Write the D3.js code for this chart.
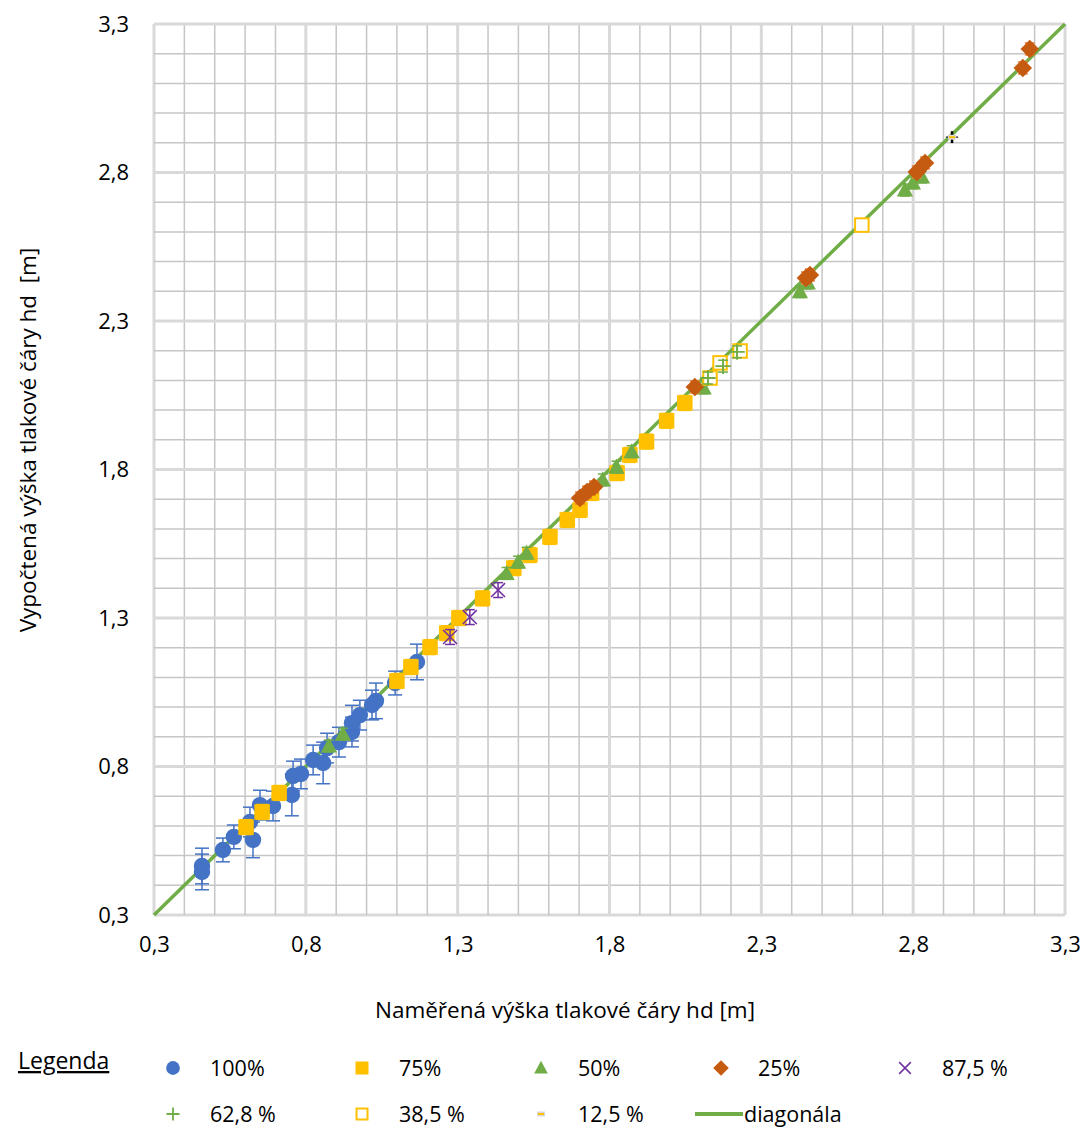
<!DOCTYPE html>
<html>
<head>
<meta charset="utf-8">
<script src="https://cdn.jsdelivr.net/npm/d3@7"></script>
<style>
  body { margin: 0; background: #fff; }
  svg text { font-family: "Open Sans", "Noto Sans", sans-serif; fill: #000; white-space: pre; }
</style>
</head>
<body>
<div id="vis"></div>
<script>
/*************************** data ************************************/
var ticks = [0.3, 0.8, 1.3, 1.8, 2.3, 2.8, 3.3];

// 100 %
var s100_x   = [0.458, 0.458, 0.527, 0.563, 0.626, 0.616, 0.649, 0.692, 0.754, 0.758, 0.784, 0.824, 0.857, 0.870, 0.909, 0.952, 0.952, 0.978, 1.018, 1.031, 1.094, 1.166];
var s100_y   = [0.465, 0.445, 0.519, 0.563, 0.553, 0.613, 0.670, 0.667, 0.704, 0.768, 0.775, 0.822, 0.812, 0.862, 0.882, 0.916, 0.946, 0.973, 1.007, 1.021, 1.081, 1.152];
var s100_err = [0.06, 0.06, 0.04, 0.04, 0.06, 0.05, 0.05, 0.05, 0.07, 0.05, 0.05, 0.05, 0.07, 0.05, 0.05, 0.05, 0.06, 0.05, 0.05, 0.06, 0.04, 0.06];

// 75 %
var s75_x = [0.603, 0.656, 0.712, 1.100, 1.146, 1.209, 1.264, 1.304, 1.382, 1.485, 1.538, 1.604, 1.661, 1.703, 1.741, 1.825, 1.867, 1.922, 1.988, 2.048];
var s75_y = [0.596, 0.647, 0.711, 1.088, 1.135, 1.202, 1.249, 1.300, 1.366, 1.468, 1.512, 1.573, 1.630, 1.664, 1.721, 1.788, 1.849, 1.894, 1.964, 2.024];

// 50 %
var s50_x = [0.876, 0.922, 1.461, 1.499, 1.527, 1.778, 1.823, 1.873, 2.110, 2.427, 2.453, 2.773, 2.799, 2.829];
var s50_y = [0.869, 0.909, 1.450, 1.488, 1.518, 1.765, 1.808, 1.860, 2.075, 2.399, 2.428, 2.741, 2.765, 2.785];

// 25 %
var s25_x = [1.703, 1.726, 1.749, 2.081, 2.447, 2.460, 2.812, 2.839, 3.161, 3.184];
var s25_y = [1.704, 1.724, 1.741, 2.078, 2.445, 2.455, 2.802, 2.832, 3.152, 3.216];

// 87,5 %
var s875_x = [1.275, 1.340, 1.433];
var s875_y = [1.236, 1.303, 1.394];

// 62,8 %
var s628_x = [2.124, 2.174, 2.220];
var s628_y = [2.108, 2.148, 2.196];

// 38,5 %
var s385_x = [2.131, 2.164, 2.230, 2.631];
var s385_y = [2.108, 2.159, 2.199, 2.623];

// 12,5 %
var s125_x = [2.928];
var s125_y = [2.919];

var series = [
    {name: "100%",   xs: s100_x, ys: s100_y, err: s100_err, sym: "circle",   color: "#4472C4", errColor: "#4472C4", cap: 7, z: 0},
    {name: "75%",    xs: s75_x,  ys: s75_y,  err: 0.025,    sym: "square",   color: "#FFC000", errColor: "#FFC000", cap: 6, z: 1},
    {name: "50%",    xs: s50_x,  ys: s50_y,  err: 0.02,     sym: "triangle", color: "#70AD47", errColor: "#70AD47", cap: 5, z: 2},
    {name: "25%",    xs: s25_x,  ys: s25_y,  err: 0.02,     sym: "diamond",  color: "#C55A11", errColor: "#ED7D31", cap: 5, z: 3},
    {name: "87,5 %", xs: s875_x, ys: s875_y, err: 0.025,    sym: "x",        color: "#7030A0", errColor: "#7030A0", cap: 5, z: 4},
    {name: "62,8 %", xs: s628_x, ys: s628_y, err: 0.02,     sym: "plus",     color: "#70AD47", errColor: "#70AD47", cap: 5, z: 6},
    {name: "38,5 %", xs: s385_x, ys: s385_y, err: 0.02,     sym: "open",     color: "#FFC000", errColor: "#FFC000", cap: 5, z: 5},
    {name: "12,5 %", xs: s125_x, ys: s125_y, err: 0.02,     sym: "dash",     color: "#A5A5A5", errColor: "#000000", cap: 0, z: 7}
];

/*************************** chart ************************************/
var W = 1084, H = 1128;
var svg = d3.select("div#vis").append("svg")
    .attr("width", W)
    .attr("height", H);

var x = d3.scaleLinear().domain([0.3, 3.3]).range([154, 1065]);
var y = d3.scaleLinear().domain([0.3, 3.3]).range([915, 24]);

var fmt = d3.formatLocale({decimal: ",", thousands: " ", grouping: [3], currency: ["", ""]}).format(".1f");

// grid, every 0.1, major every 0.5
var grid = d3.range(0, 31).map(function(i) { return +(0.3 + i * 0.1).toFixed(1); });
var g = svg.append("g").attr("class", "grid");
grid.forEach(function(v, i) {
    var major = (i % 5 === 0);
    g.append("line")
        .attr("x1", x(v)).attr("x2", x(v))
        .attr("y1", y(0.3)).attr("y2", y(3.3))
        .attr("stroke", major ? "#D9D9D9" : "#C6C6C6")
        .attr("stroke-width", major ? 3 : 1.5);
    g.append("line")
        .attr("y1", y(v)).attr("y2", y(v))
        .attr("x1", x(0.3)).attr("x2", x(3.3))
        .attr("stroke", major ? "#D9D9D9" : "#C6C6C6")
        .attr("stroke-width", major ? 3 : 1.5);
});

// axes (labels only)
var xAxis = svg.append("g")
    .attr("transform", "translate(0," + y(0.3) + ")")
    .call(d3.axisBottom(x).tickValues(ticks).tickFormat(fmt).tickSize(0).tickPadding(21));
var yAxis = svg.append("g")
    .attr("transform", "translate(" + x(0.3) + ",0)")
    .call(d3.axisLeft(y).tickValues(ticks).tickFormat(fmt).tickSize(0).tickPadding(25));
[xAxis, yAxis].forEach(function(a) {
    a.select(".domain").remove();
    a.selectAll("text")
        .attr("font-size", 22)
        .attr("font-family", "'Open Sans', sans-serif")
        .attr("fill", "#000");
});

svg.append("text")
    .attr("x", 565).attr("y", 1018)
    .attr("text-anchor", "middle")
    .attr("font-size", 22.5)
    .text("Naměřená výška tlakové čáry hd [m]");

svg.append("text")
    .attr("transform", "translate(36,440) rotate(-90)")
    .attr("text-anchor", "middle")
    .attr("font-size", 22.5)
    .text("Vypočtená výška tlakové čáry hd  [m]");

// diagonal
svg.append("line")
    .attr("x1", x(0.3)).attr("y1", y(0.3))
    .attr("x2", x(3.3)).attr("y2", y(3.3))
    .attr("stroke", "#70AD47")
    .attr("stroke-width", 3.5);

/*************************** markers ************************************/
function marker(sel, sym, color, s) {
    if (sym === "circle") {
        sel.append("circle").attr("r", s * 0.53).attr("fill", color);
    } else if (sym === "square") {
        sel.append("rect").attr("x", -s / 2).attr("y", -s / 2)
            .attr("width", s).attr("height", s).attr("fill", color);
    } else if (sym === "triangle") {
        var h = s * 0.5;
        sel.append("path").attr("d", "M0," + (-h * 1.1) + "L" + (h * 1.05) + "," + (h * 0.85) +
            "L" + (-h * 1.05) + "," + (h * 0.85) + "Z").attr("fill", color);
    } else if (sym === "diamond") {
        var d = s * 0.6;
        sel.append("path").attr("d", "M0," + (-d) + "L" + d + ",0L0," + d + "L" + (-d) + ",0Z")
            .attr("fill", color);
    } else if (sym === "x") {
        var q = s * 0.45;
        sel.append("path").attr("d", "M" + (-q) + "," + (-q) + "L" + q + "," + q +
            "M" + q + "," + (-q) + "L" + (-q) + "," + q)
            .attr("stroke", color).attr("stroke-width", 1.5).attr("fill", "none");
    } else if (sym === "plus") {
        var p = s * 0.5;
        sel.append("path").attr("d", "M" + (-p) + ",0L" + p + ",0M0," + (-p) + "L0," + p)
            .attr("stroke", color).attr("stroke-width", 1.8).attr("fill", "none");
    } else if (sym === "open") {
        sel.append("rect").attr("x", -s / 2 + 1).attr("y", -s / 2 + 1)
            .attr("width", s - 2).attr("height", s - 2)
            .attr("fill", "#fff").attr("stroke", color).attr("stroke-width", 2);
    } else if (sym === "dash") {
        sel.append("rect").attr("x", -4).attr("y", -2.5).attr("width", 8).attr("height", 5)
            .attr("fill", "#D9D9D9");
        sel.append("rect").attr("x", -3).attr("y", -1).attr("width", 6).attr("height", 2)
            .attr("fill", "#FFC000");
    }
}

series.slice().sort(function(a, b) { return a.z - b.z; }).forEach(function(s) {
    var pts = s.xs.map(function(v, i) {
        return {x: v, y: s.ys[i], e: Array.isArray(s.err) ? s.err[i] : s.err};
    });
    var layer = svg.append("g").attr("class", "series");

    // error bars
    var eb = layer.selectAll("g.err").data(pts).enter().append("g").attr("class", "err");
    eb.append("line")
        .attr("x1", function(d) { return x(d.x); }).attr("x2", function(d) { return x(d.x); })
        .attr("y1", function(d) { return y(d.y - d.e); }).attr("y2", function(d) { return y(d.y + d.e); })
        .attr("stroke", s.errColor).attr("stroke-width", s.sym === "dash" ? 2.5 : 1.5);
    if (s.cap > 0) {
        [-1, 1].forEach(function(k) {
            eb.append("line")
                .attr("x1", function(d) { return x(d.x) - s.cap; }).attr("x2", function(d) { return x(d.x) + s.cap; })
                .attr("y1", function(d) { return y(d.y + k * d.e); }).attr("y2", function(d) { return y(d.y + k * d.e); })
                .attr("stroke", s.errColor).attr("stroke-width", 1.5);
        });
    }
    if (s.sym === "dash") {
        eb.append("line")
            .attr("x1", function(d) { return x(d.x - d.e); }).attr("x2", function(d) { return x(d.x + d.e); })
            .attr("y1", function(d) { return y(d.y); }).attr("y2", function(d) { return y(d.y); })
            .attr("stroke", "#404040").attr("stroke-width", 1.5);
    }

    layer.selectAll("g.pt").data(pts).enter().append("g").attr("class", "pt")
        .attr("transform", function(d) { return "translate(" + x(d.x) + "," + y(d.y) + ")"; })
        .each(function() { marker(d3.select(this), s.sym, s.color, 15.5); });
});

/*************************** legend ************************************/
var legend = svg.append("g").attr("class", "legend");
legend.append("text")
    .attr("x", 18).attr("y", 1069)
    .attr("font-size", 23)
    .attr("text-decoration", "underline")
    .text("Legenda");

var cols = [173, 362, 541, 721, 905];
var rows = [1068, 1114];
var items = series.map(function(s) { return {name: s.name, sym: s.sym, color: s.color}; });
items.push({name: "diagonála", sym: "line", color: "#70AD47"});

items.forEach(function(it, i) {
    var cx = cols[i % 5], cy = rows[Math.floor(i / 5)];
    var li = legend.append("g").attr("transform", "translate(" + cx + "," + cy + ")");
    if (it.sym === "line") {
        li.append("line").attr("x1", -26).attr("x2", 22).attr("y1", 0).attr("y2", 0)
            .attr("stroke", it.color).attr("stroke-width", 4);
        li.append("text").attr("x", 23).attr("y", 8).attr("font-size", 21.5).text(it.name);
    } else {
        marker(li, it.sym, it.color, 13);
        li.append("text").attr("x", 37).attr("y", 8).attr("font-size", 21.5).text(it.name);
    }
});
</script>
</body>
</html>
